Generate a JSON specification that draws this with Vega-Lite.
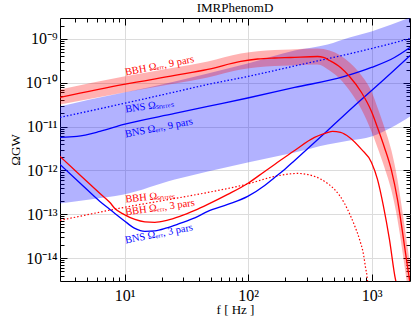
{
  "$schema": "https://vega.github.io/schema/vega-lite/v6.json",
  "autosize": {"type": "none"},
  "width": 350,
  "height": 263,
  "padding": {"left": 60, "top": 18, "right": 6, "bottom": 46},
  "background": "white",
  "title": {"text": "IMRPhenomD", "font": "Liberation Serif", "fontSize": 13, "fontWeight": "normal", "color": "black", "anchor": "middle", "offset": 3},
  "config": {
    "view": {"stroke": "black", "strokeWidth": 1},
    "axis": {"tickColor": "black", "tickWidth": 1, "labelColor": "black", "titleColor": "black", "labelFont": "Liberation Serif", "titleFont": "Liberation Serif", "titleFontWeight": "normal", "domain": false}
  },
  "datasets": {
    "bns_band": [
      {"f": 3.0, "lo": 1.765e-13, "hi": 2.88e-11},
      {"f": 5.24, "lo": 2.18e-13, "hi": 4.15e-11},
      {"f": 9.87, "lo": 2.83e-13, "hi": 6.0e-11},
      {"f": 25.5, "lo": 6.22e-13, "hi": 1.069e-10},
      {"f": 47.2, "lo": 9.47e-13, "hi": 1.627e-10},
      {"f": 99.3, "lo": 1.52e-12, "hi": 2.75e-10},
      {"f": 238.3, "lo": 2.57e-12, "hi": 5.44e-10},
      {"f": 440.4, "lo": 3.91e-12, "hi": 7.46e-10},
      {"f": 663.2, "lo": 4.82e-12, "hi": 1.077e-9},
      {"f": 998.9, "lo": 5.95e-12, "hi": 1.476e-9},
      {"f": 1449, "lo": 9.55e-12, "hi": 2.13e-9},
      {"f": 2048, "lo": 1.7e-11, "hi": 3.08e-9}
    ],
    "bbh_band": [
      {"f": 3.0, "lo": 3.19e-11, "hi": 7.02e-11},
      {"f": 9.87, "lo": 6.0e-11, "hi": 1.39e-10},
      {"f": 25.5, "lo": 9.62e-11, "hi": 2.23e-10},
      {"f": 47.2, "lo": 1.32e-10, "hi": 3.06e-10},
      {"f": 87.2, "lo": 2.01e-10, "hi": 4.65e-10},
      {"f": 164.1, "lo": 2.41e-10, "hi": 5.59e-10},
      {"f": 221.1, "lo": 2.48e-10, "hi": 5.74e-10},
      {"f": 365.5, "lo": 2.61e-10, "hi": 6.04e-10},
      {"f": 457.1, "lo": 1.905e-10, "hi": 5.44e-10},
      {"f": 560.9, "lo": 1.187e-10, "hi": 4.18e-10},
      {"f": 663.2, "lo": 6.66e-11, "hi": 2.9e-10},
      {"f": 829.3, "lo": 2.46e-11, "hi": 1.465e-10},
      {"f": 998.9, "lo": 7.74e-12, "hi": 6.32e-11},
      {"f": 1117, "lo": 3.34e-12, "hi": 2.73e-11},
      {"f": 1272, "lo": 1.169e-12, "hi": 9.55e-12},
      {"f": 1449, "lo": 3.49e-13, "hi": 2.85e-12},
      {"f": 1621, "lo": 7.61e-14, "hi": 6.22e-13},
      {"f": 1778, "lo": 1.42e-14, "hi": 1.159e-13},
      {"f": 1916, "lo": 3.26e-15, "hi": 2.67e-14},
      {"f": 2026, "lo": 1.14e-15, "hi": 9.32e-15},
      {"f": 2102, "lo": 5.19e-16, "hi": 4.24e-15}
    ],
    "bbh9": [
      {"f": 3.0, "Omega": 4.61e-11},
      {"f": 9.87, "Omega": 9.13e-11},
      {"f": 25.5, "Omega": 1.465e-10},
      {"f": 47.2, "Omega": 2.01e-10},
      {"f": 87.2, "Omega": 3.06e-10},
      {"f": 119.6, "Omega": 3.48e-10},
      {"f": 164.1, "Omega": 3.67e-10},
      {"f": 221.1, "Omega": 3.77e-10},
      {"f": 365.5, "Omega": 3.97e-10},
      {"f": 408.6, "Omega": 3.77e-10},
      {"f": 457.1, "Omega": 3.22e-10},
      {"f": 560.9, "Omega": 2.23e-10},
      {"f": 663.2, "Omega": 1.39e-10},
      {"f": 829.3, "Omega": 6.0e-11},
      {"f": 998.9, "Omega": 2.21e-11},
      {"f": 1117, "Omega": 9.55e-12},
      {"f": 1272, "Omega": 3.34e-12},
      {"f": 1449, "Omega": 9.98e-13},
      {"f": 1621, "Omega": 2.18e-13},
      {"f": 1778, "Omega": 4.06e-14},
      {"f": 1916, "Omega": 9.32e-15},
      {"f": 2026, "Omega": 3.26e-15},
      {"f": 2102, "Omega": 1.48e-15}
    ],
    "bns_snr": [
      {"f": 3.0, "Omega": 1.614e-11},
      {"f": 9.87, "Omega": 3.37e-11},
      {"f": 25.5, "Omega": 6.16e-11},
      {"f": 47.2, "Omega": 9.13e-11},
      {"f": 99.3, "Omega": 1.39e-10},
      {"f": 238.3, "Omega": 2.41e-10},
      {"f": 365.5, "Omega": 3.14e-10},
      {"f": 604.2, "Omega": 4.3e-10},
      {"f": 998.9, "Omega": 6.04e-10},
      {"f": 1449, "Omega": 7.86e-10},
      {"f": 2048, "Omega": 1.022e-9}
    ],
    "bns9": [
      {"f": 3.0, "Omega": 5.65e-12},
      {"f": 4.12, "Omega": 5.95e-12},
      {"f": 6.32, "Omega": 7.74e-12},
      {"f": 9.87, "Omega": 1.118e-11},
      {"f": 25.5, "Omega": 1.99e-11},
      {"f": 47.2, "Omega": 2.88e-11},
      {"f": 99.3, "Omega": 4.49e-11},
      {"f": 238.3, "Omega": 7.8e-11},
      {"f": 604.2, "Omega": 1.39e-10},
      {"f": 998.9, "Omega": 2.23e-10},
      {"f": 1533, "Omega": 3.77e-10},
      {"f": 2048, "Omega": 6.37e-10}
    ],
    "bns3": [
      {"f": 3.0, "Omega": 1.368e-12},
      {"f": 4.35, "Omega": 5.18e-13},
      {"f": 6.32, "Omega": 1.96e-13},
      {"f": 7.61, "Omega": 1.288e-13},
      {"f": 8.35, "Omega": 1.044e-13},
      {"f": 9.87, "Omega": 7.23e-14},
      {"f": 12.12, "Omega": 4.75e-14},
      {"f": 14.6, "Omega": 4.06e-14},
      {"f": 17.59, "Omega": 4.16e-14},
      {"f": 21.99, "Omega": 4.88e-14},
      {"f": 28.01, "Omega": 6.17e-14},
      {"f": 37.03, "Omega": 8.24e-14},
      {"f": 47.17, "Omega": 1.159e-13},
      {"f": 68.42, "Omega": 1.675e-13},
      {"f": 99.29, "Omega": 2.55e-13},
      {"f": 136.3, "Omega": 4.54e-13},
      {"f": 164.1, "Omega": 6.91e-13},
      {"f": 197.7, "Omega": 1.052e-12},
      {"f": 238.3, "Omega": 1.688e-12},
      {"f": 432.2, "Omega": 7.74e-12},
      {"f": 701.3, "Omega": 2.73e-11},
      {"f": 1159, "Omega": 9.62e-11},
      {"f": 2048, "Omega": 4.18e-10}
    ],
    "bbh3": [
      {"f": 3.0, "Omega": 2.08e-12},
      {"f": 4.35, "Omega": 7.88e-13},
      {"f": 6.32, "Omega": 2.98e-13},
      {"f": 7.61, "Omega": 1.85e-13},
      {"f": 8.35, "Omega": 1.35e-13},
      {"f": 9.87, "Omega": 9.9e-14},
      {"f": 12.12, "Omega": 7.6e-14},
      {"f": 14.6, "Omega": 6.68e-14},
      {"f": 17.59, "Omega": 6.51e-14},
      {"f": 21.99, "Omega": 7.23e-14},
      {"f": 28.01, "Omega": 8.92e-14},
      {"f": 37.03, "Omega": 1.222e-13},
      {"f": 47.17, "Omega": 1.675e-13},
      {"f": 68.42, "Omega": 2.83e-13},
      {"f": 99.29, "Omega": 5.04e-13},
      {"f": 136.3, "Omega": 9.47e-13},
      {"f": 164.1, "Omega": 1.368e-12},
      {"f": 238.3, "Omega": 2.85e-12},
      {"f": 345.6, "Omega": 5.65e-12},
      {"f": 432.2, "Omega": 7.15e-12},
      {"f": 483.3, "Omega": 7.74e-12},
      {"f": 560.9, "Omega": 7.34e-12},
      {"f": 663.2, "Omega": 5.65e-12},
      {"f": 829.3, "Omega": 3.01e-12},
      {"f": 998.9, "Omega": 1.52e-12},
      {"f": 1117, "Omega": 6.22e-13},
      {"f": 1249, "Omega": 1.51e-13},
      {"f": 1396, "Omega": 2.67e-14},
      {"f": 1562, "Omega": 3.26e-15},
      {"f": 1682, "Omega": 1.61e-15}
    ],
    "bbh_snr": [
      {"f": 3.0, "Omega": 7.23e-14},
      {"f": 9.87, "Omega": 1.43e-13},
      {"f": 25.5, "Omega": 2.29e-13},
      {"f": 47.2, "Omega": 3.14e-13},
      {"f": 99.3, "Omega": 4.91e-13},
      {"f": 164.1, "Omega": 7.29e-13},
      {"f": 251.9, "Omega": 8.53e-13},
      {"f": 345.6, "Omega": 7.29e-13},
      {"f": 440.4, "Omega": 5.04e-13},
      {"f": 501.6, "Omega": 3.68e-13},
      {"f": 604.2, "Omega": 1.765e-13},
      {"f": 639.0, "Omega": 1.288e-13},
      {"f": 727.8, "Omega": 5.56e-14},
      {"f": 799.0, "Omega": 2.67e-14},
      {"f": 860.4, "Omega": 1.212e-14},
      {"f": 893.3, "Omega": 6.13e-15},
      {"f": 927.2, "Omega": 3.09e-15},
      {"f": 944.5, "Omega": 1.48e-15}
    ],
    "labels": [
      {"key": "bbh9", "source": "BBH", "label": "BBH Ωₑᵣᵣ, 9 pars", "f": 10.2, "Omega": 1.465e-10},
      {"key": "bnssnr", "source": "BNS", "label": "BNS Ωₛₙᵣᵣₑₛ", "f": 10.2, "Omega": 2.1e-11},
      {"key": "bns9", "source": "BNS", "label": "BNS Ωₑᵣᵣ, 9 pars", "f": 10.2, "Omega": 5.65e-12},
      {"key": "bbhsnr", "source": "BBH", "label": "BBH Ωₛₙᵣᵣₑₛ", "f": 10.2, "Omega": 1.86e-13},
      {"key": "bbh3", "source": "BBH", "label": "BBH Ωₑᵣᵣ, 3 pars", "f": 10.2, "Omega": 9.4e-14},
      {"key": "bns3", "source": "BNS", "label": "BNS Ωₑᵣᵣ, 3 pars", "f": 10.2, "Omega": 2.16e-14}
    ]
  },
  "resolve": {"axis": {"x": "independent", "y": "independent"}},
  "layer": [
    {
      "data": {"name": "bbh9"},
      "mark": {"type": "point", "opacity": 0},
      "encoding": {
        "x": {"field": "f", "type": "quantitative", "scale": {"type": "log", "domain": [3, 2048], "nice": false},
          "axis": {"orient": "bottom", "values": [10, 100, 1000], "labelExpr": "datum.value < 50 ? '10¹' : datum.value < 500 ? '10²' : '10³'", "grid": true, "gridColor": "#dcdcdc", "tickSize": -7, "labelPadding": 13, "labelFontSize": 16, "title": "f [ Hz ]", "titleFontSize": 13, "titlePadding": 0}},
        "y": {"field": "Omega", "type": "quantitative", "scale": {"type": "log", "domain": [3e-15, 3e-9], "nice": false},
          "axis": {"orient": "left", "values": [1e-14, 1e-13, 1e-12, 1e-11, 1e-10, 1e-9], "labelExpr": "datum.value < 3e-14 ? '10⁻¹⁴' : datum.value < 3e-13 ? '10⁻¹³' : datum.value < 3e-12 ? '10⁻¹²' : datum.value < 3e-11 ? '10⁻¹¹' : datum.value < 3e-10 ? '10⁻¹⁰' : '10⁻⁹'", "grid": true, "gridColor": "#dcdcdc", "tickSize": -7, "labelPadding": 10, "labelFontSize": 16, "title": "ΩGW", "titleFontSize": 13, "titlePadding": 3}}
      }
    },
    {
      "data": {"name": "bbh9"},
      "mark": {"type": "point", "opacity": 0},
      "encoding": {
        "x": {"field": "f", "type": "quantitative", "scale": {"type": "log", "domain": [3, 2048], "nice": false},
          "axis": {"orient": "bottom", "values": [4, 5, 6, 7, 8, 9, 20, 30, 40, 50, 60, 70, 80, 90, 200, 300, 400, 500, 600, 700, 800, 900, 2000], "labels": false, "grid": false, "tickSize": -4, "title": null}},
        "y": {"field": "Omega", "type": "quantitative", "scale": {"type": "log", "domain": [3e-15, 3e-9], "nice": false},
          "axis": {"orient": "left", "values": [4e-15, 5e-15, 6e-15, 7e-15, 8e-15, 9e-15, 2e-14, 3e-14, 4e-14, 5e-14, 6e-14, 7e-14, 8e-14, 9e-14, 2e-13, 3e-13, 4e-13, 5e-13, 6e-13, 7e-13, 8e-13, 9e-13, 2e-12, 3e-12, 4e-12, 5e-12, 6e-12, 7e-12, 8e-12, 9e-12, 2e-11, 3e-11, 4e-11, 5e-11, 6e-11, 7e-11, 8e-11, 9e-11, 2e-10, 3e-10, 4e-10, 5e-10, 6e-10, 7e-10, 8e-10, 9e-10, 2e-9], "labels": false, "grid": false, "tickSize": -4, "title": null}}
      }
    },
    {
      "data": {"name": "bbh9"},
      "mark": {"type": "point", "opacity": 0},
      "encoding": {
        "x": {"field": "f", "type": "quantitative", "scale": {"type": "log", "domain": [3, 2048], "nice": false},
          "axis": {"orient": "top", "values": [10, 100, 1000], "labels": false, "grid": false, "tickSize": -7, "title": null}},
        "y": {"field": "Omega", "type": "quantitative", "scale": {"type": "log", "domain": [3e-15, 3e-9], "nice": false},
          "axis": {"orient": "right", "values": [1e-14, 1e-13, 1e-12, 1e-11, 1e-10, 1e-9], "labels": false, "grid": false, "tickSize": -7, "title": null}}
      }
    },
    {
      "data": {"name": "bbh9"},
      "mark": {"type": "point", "opacity": 0},
      "encoding": {
        "x": {"field": "f", "type": "quantitative", "scale": {"type": "log", "domain": [3, 2048], "nice": false},
          "axis": {"orient": "top", "values": [4, 5, 6, 7, 8, 9, 20, 30, 40, 50, 60, 70, 80, 90, 200, 300, 400, 500, 600, 700, 800, 900, 2000], "labels": false, "grid": false, "tickSize": -4, "title": null}},
        "y": {"field": "Omega", "type": "quantitative", "scale": {"type": "log", "domain": [3e-15, 3e-9], "nice": false},
          "axis": {"orient": "right", "values": [4e-15, 5e-15, 6e-15, 7e-15, 8e-15, 9e-15, 2e-14, 3e-14, 4e-14, 5e-14, 6e-14, 7e-14, 8e-14, 9e-14, 2e-13, 3e-13, 4e-13, 5e-13, 6e-13, 7e-13, 8e-13, 9e-13, 2e-12, 3e-12, 4e-12, 5e-12, 6e-12, 7e-12, 8e-12, 9e-12, 2e-11, 3e-11, 4e-11, 5e-11, 6e-11, 7e-11, 8e-11, 9e-11, 2e-10, 3e-10, 4e-10, 5e-10, 6e-10, 7e-10, 8e-10, 9e-10, 2e-9], "labels": false, "grid": false, "tickSize": -4, "title": null}}
      }
    },
    {
      "data": {"name": "bns_band"},
      "mark": {"type": "area", "color": "#0000ff", "opacity": 0.3, "interpolate": "monotone", "clip": true},
      "encoding": {
        "x": {"field": "f", "type": "quantitative", "scale": {"type": "log", "domain": [3, 2048], "nice": false}, "axis": null},
        "y": {"field": "lo", "type": "quantitative", "scale": {"type": "log", "domain": [3e-15, 3e-9], "nice": false}, "axis": null},
        "y2": {"field": "hi"}
      }
    },
    {
      "data": {"name": "bbh_band"},
      "mark": {"type": "area", "color": "#ff0000", "opacity": 0.3, "interpolate": "monotone", "clip": true},
      "encoding": {
        "x": {"field": "f", "type": "quantitative", "scale": {"type": "log", "domain": [3, 2048], "nice": false}, "axis": null},
        "y": {"field": "lo", "type": "quantitative", "scale": {"type": "log", "domain": [3e-15, 3e-9], "nice": false}, "axis": null},
        "y2": {"field": "hi"}
      }
    },
    {
      "data": {"name": "bns_snr"},
      "mark": {"type": "line", "color": "#0000ff", "strokeWidth": 1.3, "strokeDash": [1.5, 2], "interpolate": "monotone", "clip": true},
      "encoding": {
        "x": {"field": "f", "type": "quantitative", "scale": {"type": "log", "domain": [3, 2048], "nice": false}, "axis": null},
        "y": {"field": "Omega", "type": "quantitative", "scale": {"type": "log", "domain": [3e-15, 3e-9], "nice": false}, "axis": null}
      }
    },
    {
      "data": {"name": "bbh_snr"},
      "mark": {"type": "line", "color": "#ff0000", "strokeWidth": 1.2, "strokeDash": [1.5, 2], "interpolate": "monotone", "clip": true},
      "encoding": {
        "x": {"field": "f", "type": "quantitative", "scale": {"type": "log", "domain": [3, 2048], "nice": false}, "axis": null},
        "y": {"field": "Omega", "type": "quantitative", "scale": {"type": "log", "domain": [3e-15, 3e-9], "nice": false}, "axis": null}
      }
    },
    {
      "data": {"name": "bns9"},
      "mark": {"type": "line", "color": "#0000ff", "strokeWidth": 1.3, "interpolate": "monotone", "clip": true},
      "encoding": {
        "x": {"field": "f", "type": "quantitative", "scale": {"type": "log", "domain": [3, 2048], "nice": false}, "axis": null},
        "y": {"field": "Omega", "type": "quantitative", "scale": {"type": "log", "domain": [3e-15, 3e-9], "nice": false}, "axis": null}
      }
    },
    {
      "data": {"name": "bns3"},
      "mark": {"type": "line", "color": "#0000ff", "strokeWidth": 1.3, "interpolate": "monotone", "clip": true},
      "encoding": {
        "x": {"field": "f", "type": "quantitative", "scale": {"type": "log", "domain": [3, 2048], "nice": false}, "axis": null},
        "y": {"field": "Omega", "type": "quantitative", "scale": {"type": "log", "domain": [3e-15, 3e-9], "nice": false}, "axis": null}
      }
    },
    {
      "data": {"name": "bbh3"},
      "mark": {"type": "line", "color": "#ff0000", "strokeWidth": 1.3, "interpolate": "monotone", "clip": true},
      "encoding": {
        "x": {"field": "f", "type": "quantitative", "scale": {"type": "log", "domain": [3, 2048], "nice": false}, "axis": null},
        "y": {"field": "Omega", "type": "quantitative", "scale": {"type": "log", "domain": [3e-15, 3e-9], "nice": false}, "axis": null}
      }
    },
    {
      "data": {"name": "bbh9"},
      "mark": {"type": "line", "color": "#ff0000", "strokeWidth": 1.3, "interpolate": "monotone", "clip": true},
      "encoding": {
        "x": {"field": "f", "type": "quantitative", "scale": {"type": "log", "domain": [3, 2048], "nice": false}, "axis": null},
        "y": {"field": "Omega", "type": "quantitative", "scale": {"type": "log", "domain": [3e-15, 3e-9], "nice": false}, "axis": null}
      }
    },
    {
      "data": {"name": "labels"},
      "transform": [{"filter": {"field": "key", "oneOf": ["bbh9", "bns9", "bns3"]}}],
      "mark": {"type": "text", "align": "left", "baseline": "alphabetic", "font": "Liberation Serif", "fontSize": 10.5, "angle": 349},
      "encoding": {
        "x": {"field": "f", "type": "quantitative", "scale": {"type": "log", "domain": [3, 2048], "nice": false}, "axis": null},
        "y": {"field": "Omega", "type": "quantitative", "scale": {"type": "log", "domain": [3e-15, 3e-9], "nice": false}, "axis": null},
        "text": {"field": "label"},
        "color": {"field": "source", "type": "nominal", "scale": {"domain": ["BBH", "BNS"], "range": ["#ff0000", "#0000ff"]}, "legend": null}
      }
    },
    {
      "data": {"name": "labels"},
      "transform": [{"filter": {"field": "key", "oneOf": ["bnssnr", "bbh3"]}}],
      "mark": {"type": "text", "align": "left", "baseline": "alphabetic", "font": "Liberation Serif", "fontSize": 10.5, "angle": 352},
      "encoding": {
        "x": {"field": "f", "type": "quantitative", "scale": {"type": "log", "domain": [3, 2048], "nice": false}, "axis": null},
        "y": {"field": "Omega", "type": "quantitative", "scale": {"type": "log", "domain": [3e-15, 3e-9], "nice": false}, "axis": null},
        "text": {"field": "label"},
        "color": {"field": "source", "type": "nominal", "scale": {"domain": ["BBH", "BNS"], "range": ["#ff0000", "#0000ff"]}, "legend": null}
      }
    },
    {
      "data": {"name": "labels"},
      "transform": [{"filter": {"field": "key", "equal": "bbhsnr"}}],
      "mark": {"type": "text", "align": "left", "baseline": "alphabetic", "font": "Liberation Serif", "fontSize": 10.5, "angle": 354},
      "encoding": {
        "x": {"field": "f", "type": "quantitative", "scale": {"type": "log", "domain": [3, 2048], "nice": false}, "axis": null},
        "y": {"field": "Omega", "type": "quantitative", "scale": {"type": "log", "domain": [3e-15, 3e-9], "nice": false}, "axis": null},
        "text": {"field": "label"},
        "color": {"field": "source", "type": "nominal", "scale": {"domain": ["BBH", "BNS"], "range": ["#ff0000", "#0000ff"]}, "legend": null}
      }
    }
  ]
}
